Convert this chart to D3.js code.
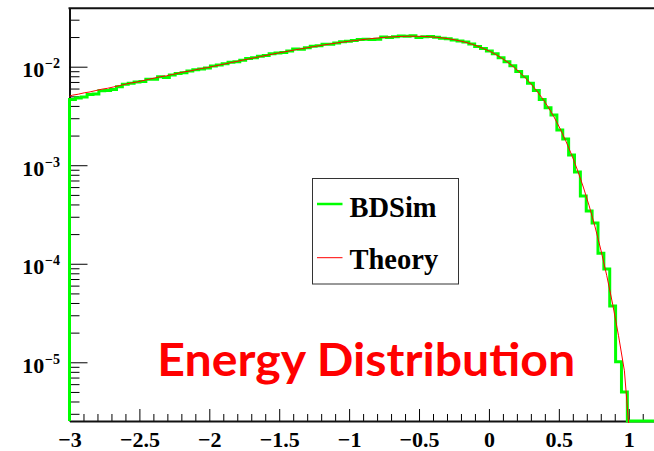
<!DOCTYPE html>
<html><head><meta charset="utf-8">
<script src="https://cdn.jsdelivr.net/npm/d3@7"></script>
<style>html,body{margin:0;padding:0;background:#fff;} svg{display:block}</style>
</head><body>
<svg id="c" width="654" height="451"></svg>
<script>
// ---------- data ----------
const xMin = -3, xMax = 1.2, nBins = 100;
const yMin = 2.536e-6, yMax = 3.915e-2;

const bdsim = [
 4.66e-3,4.81e-3,4.92e-3,5.23e-3,5.29e-3,5.69e-3,5.75e-3,5.87e-3,6.25e-3,6.64e-3,
 6.78e-3,6.99e-3,7.08e-3,7.44e-3,7.45e-3,7.92e-3,7.77e-3,8.25e-3,8.51e-3,8.68e-3,
 9.04e-3,9.31e-3,9.50e-3,9.69e-3,1.018e-2,1.038e-2,1.069e-2,1.111e-2,1.121e-2,1.165e-2,
 1.211e-2,1.233e-2,1.280e-2,1.302e-2,1.351e-2,1.374e-2,1.396e-2,1.447e-2,1.514e-2,1.506e-2,
 1.558e-2,1.612e-2,1.633e-2,1.686e-2,1.688e-2,1.741e-2,1.793e-2,1.808e-2,1.840e-2,1.888e-2,
 1.900e-2,1.893e-2,1.897e-2,2.000e-2,1.982e-2,2.018e-2,2.049e-2,2.037e-2,2.058e-2,1.975e-2,
 2.008e-2,2.031e-2,1.987e-2,1.941e-2,1.925e-2,1.862e-2,1.827e-2,1.783e-2,1.695e-2,1.599e-2,
 1.528e-2,1.441e-2,1.352e-2,1.234e-2,1.124e-2,1.020e-2,8.95e-3,7.92e-3,6.78e-3,5.75e-3,
 4.66e-3,3.83e-3,3.23e-3,2.28e-3,1.85e-3,1.27e-3,8.53e-4,4.87e-4,3.43e-4,2.59e-4,
 1.28e-4,8.84e-5,3.72e-5,1.01e-5,4.98e-6,0,0,0,0,0
];

// theory evaluated at the bin centres (first 96 bins)
const theory = [
 5.14e-3,5.26e-3,5.43e-3,5.55e-3,5.73e-3,5.91e-3,6.04e-3,6.23e-3,6.43e-3,6.64e-3,
 6.85e-3,6.99e-3,7.22e-3,7.44e-3,7.68e-3,7.92e-3,8.08e-3,8.33e-3,8.59e-3,8.86e-3,
 9.04e-3,9.31e-3,9.60e-3,9.788e-3,1.0081e-2,1.0382e-2,1.0690e-2,1.1004e-2,1.1325e-2,1.1652e-2,
 1.1986e-2,1.2326e-2,1.2672e-2,1.3023e-2,1.3379e-2,1.3739e-2,1.4103e-2,1.4471e-2,1.4841e-2,1.5212e-2,
 1.5584e-2,1.5956e-2,1.6325e-2,1.6691e-2,1.7052e-2,1.7406e-2,1.7750e-2,1.8084e-2,1.8404e-2,1.8692e-2,
 1.9003e-2,1.9314e-2,1.9558e-2,1.9802e-2,2.0024e-2,2.0180e-2,2.0291e-2,2.0369e-2,2.0380e-2,2.0357e-2,
 2.0280e-2,2.0113e-2,1.9869e-2,1.9603e-2,1.9254e-2,1.8803e-2,1.8266e-2,1.7651e-2,1.6947e-2,1.6155e-2,
 1.5276e-2,1.4408e-2,1.3387e-2,1.2339e-2,1.1240e-2,1.0099e-2,8.951e-3,7.843e-3,6.782e-3,5.754e-3,
 4.802e-3,3.907e-3,3.099e-3,2.382e-3,1.776e-3,1.283e-3,8.94e-4,6.007e-4,3.867e-4,2.371e-4,
 1.3775e-4,7.56e-5,3.89e-5,1.86e-5,8.2e-6,1.5e-6
];
const theoryAtMin = 5.0e-3;

const xMajor = [-3,-2.5,-2,-1.5,-1,-0.5,0,0.5,1];
const xLabels = ["\u22123","\u22122.5","\u22122","\u22121.5","\u22121","\u22120.5","0","0.5","1"];
const yMajor = [1e-2,1e-3,1e-4,1e-5];
const yBase = "10";
const yExp = ["\u22122","\u22123","\u22124","\u22125"];
const seriesNames = ["BDSim","Theory"];
const seriesColors = ["#00ff00","#ff0000"];
const titleText = "Energy Distribution";

// ---------- layout ----------
const svg = d3.select("#c");
const L = 69.5, R = 656.7, T = 8.3, B = 421;
const x = d3.scaleLinear().domain([xMin, xMax]).range([L, R]);
const y = d3.scaleLog().domain([yMin, yMax]).range([B, T]);
const serif = "'Liberation Serif','Times New Roman',serif";
const binW = (xMax - xMin) / nBins;

svg.append("rect").attr("width",654).attr("height",451).attr("fill","#fff");

// minor x ticks
const xMinor = d3.range(0, 43).map(i => +(xMin + i*0.1).toFixed(2))
  .filter(v => !xMajor.some(m => Math.abs(m - v) < 1e-6));
svg.append("g").attr("transform",`translate(0,${B})`)
  .call(d3.axisBottom(x).tickValues(xMinor).tickSize(-7).tickSizeOuter(0).tickFormat(""))
  .call(g => g.select(".domain").remove())
  .call(g => g.selectAll("line").attr("stroke","#000").attr("stroke-width",1));

// major x ticks + labels
svg.append("g").attr("transform",`translate(0,${B})`)
  .call(d3.axisBottom(x).tickValues(xMajor).tickSize(-12).tickSizeOuter(0)
        .tickPadding(10).tickFormat((d,i)=>xLabels[i]))
  .call(g => g.select(".domain").attr("stroke","#111").attr("stroke-width",2))
  .call(g => g.selectAll("line").attr("stroke","#000").attr("stroke-width",1))
  .call(g => g.selectAll("text").attr("font-family",serif).attr("font-weight","bold")
        .attr("font-size",22).attr("fill","#000"));

// minor y ticks
const yMinor = y.ticks().filter(v => {
  const l = Math.log10(v); return Math.abs(l - Math.round(l)) > 1e-6;
});
svg.append("g").attr("transform",`translate(${L},0)`)
  .call(d3.axisLeft(y).tickValues(yMinor).tickSize(-10).tickSizeOuter(0).tickFormat(""))
  .call(g => g.select(".domain").remove())
  .call(g => g.selectAll("line").attr("stroke","#000").attr("stroke-width",1));

// major y ticks
svg.append("g").attr("transform",`translate(${L},0)`)
  .call(d3.axisLeft(y).tickValues(yMajor).tickSize(-18).tickSizeOuter(0).tickFormat(""))
  .call(g => g.select(".domain").attr("stroke","#111").attr("stroke-width",2))
  .call(g => g.selectAll("line").attr("stroke","#000").attr("stroke-width",1));

// y labels 10^n
const yl = svg.append("g");
yMajor.forEach((v,i) => {
  const yy = y(v);
  yl.append("text").attr("x",44.3).attr("y",yy+10.6).attr("text-anchor","end")
    .attr("font-family",serif).attr("font-weight","bold").attr("font-size",22).text(yBase);
  yl.append("text").attr("x",45).attr("y",yy+1.5)
    .attr("font-family",serif).attr("font-weight","bold").attr("font-size",14).text(yExp[i]);
});

// top frame
svg.append("line").attr("x1",L-1).attr("x2",R).attr("y1",T).attr("y2",T)
  .attr("stroke","#111").attr("stroke-width",2);

// clip
svg.append("clipPath").attr("id","plot").append("rect")
  .attr("x",L-2).attr("y",T).attr("width",R-L+4).attr("height",B-T+2);

// histogram
const yv = v => v > 0 ? Math.min(y(v), B) : B;
const hpts = [[x(xMin), B]];
bdsim.forEach((v,i) => {
  const x0 = x(xMin + i*binW), x1 = x(xMin + (i+1)*binW);
  hpts.push([x0, yv(v)]); hpts.push([x1, yv(v)]);
});
svg.append("path").attr("d", d3.line()(hpts))
  .attr("fill","none").attr("stroke",seriesColors[0]).attr("stroke-width",3)
  .attr("stroke-linejoin","miter");

// theory curve
const tpts = [[xMin, theoryAtMin]].concat(theory.map((v,i)=>[xMin + (i+0.5)*binW, v]));
svg.append("g").attr("clip-path","url(#plot)").append("path")
  .attr("d", d3.line().x(d=>x(d[0])).y(d=>y(d[1]))(tpts))
  .attr("fill","none").attr("stroke",seriesColors[1]).attr("stroke-width",1);

// legend
const lg = svg.append("g");
lg.append("rect").attr("x",312.5).attr("y",178.5).attr("width",146).attr("height",105.5)
  .attr("fill","#fff").attr("stroke","#333").attr("stroke-width",1);
const legY = [204, 257.7], legBase = [216.7, 269];
seriesNames.forEach((n,i) => {
  lg.append("line").attr("x1",317).attr("x2",342.5).attr("y1",legY[i]).attr("y2",legY[i])
    .attr("stroke",seriesColors[i]).attr("stroke-width", i===0 ? 2.5 : 1);
  lg.append("text").attr("x",349.5).attr("y",legBase[i])
    .attr("font-family",serif).attr("font-weight","bold").attr("font-size",28.5)
    .attr("fill","#000").text(n);
});

// title
svg.append("text").attr("x",157.3).attr("y",375.7)
  .attr("font-family","Lato, 'Open Sans', sans-serif").attr("font-weight","bold")
  .attr("font-size",46).attr("fill","#ff0000")
  .attr("textLength",418).attr("lengthAdjust","spacingAndGlyphs").text(titleText);
</script>
</body></html>
